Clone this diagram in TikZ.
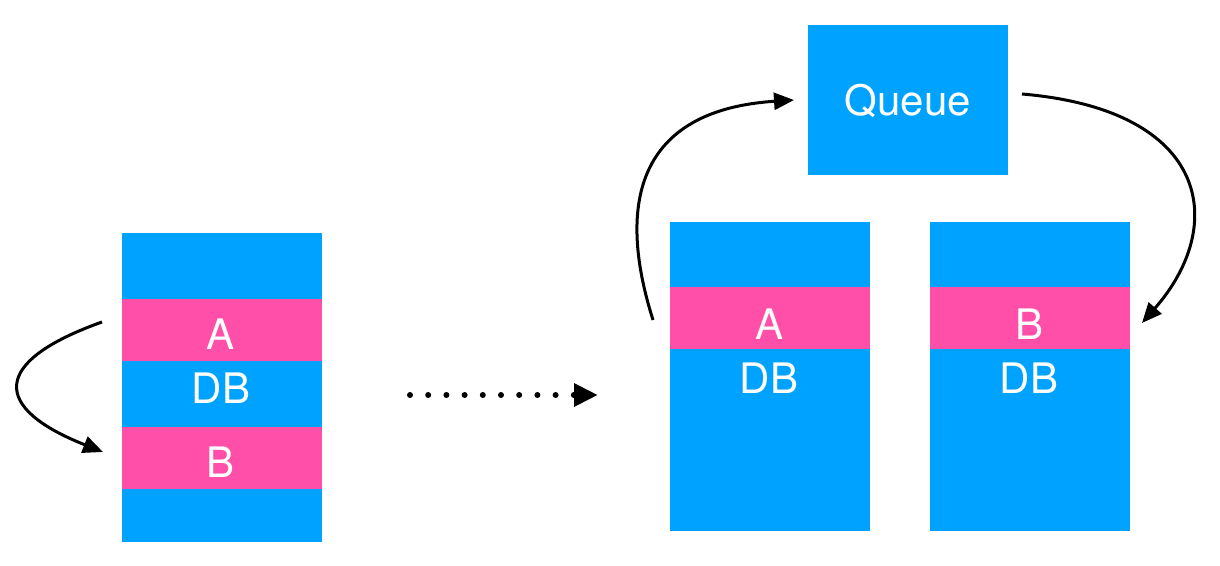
\documentclass[tikz,border=0pt]{standalone}
\usepackage{fontspec}
\setmainfont{TeX Gyre Heros}
\usetikzlibrary{arrows.meta,positioning}
\definecolor{dbblue}{RGB}{0,162,255}
\definecolor{rowpink}{RGB}{255,79,168}

\begin{document}
\begin{tikzpicture}[x=0.5pt, y=-0.5pt,
        dbbox/.style={fill=dbblue, minimum width=100pt, minimum height=154.5pt, inner sep=0pt, outer sep=0pt},
        rowband/.style={fill=rowpink, minimum width=100pt, minimum height=31pt, inner sep=0pt, outer sep=0pt},
        label/.style={text=white, inner sep=0pt, text depth=0pt, font=\fontsize{21}{24}\selectfont},
        link/.style={line width=1.5pt, -{Triangle[length=10pt, width=8.5pt]}}]

        \useasboundingbox (0,0) rectangle (1220,566);

        % Left database (one box)
        \node[dbbox, anchor=north west] (dbL) at (122,233) {};
        \node[rowband, below=33pt of dbL.north, anchor=north] (rowLA) {};
        \node[rowband, below=33pt of rowLA.south, anchor=north] (rowLB) {};
        \node[label] (txtLA) at (221,334) {A};
        \node[label] (txtLdb) at (221,388) {DB};
        \node[label] (txtLB) at (221,462) {B};

        % Queue
        \node[dbbox, minimum height=75pt, anchor=north west] (queue) at (808,25) {};
        \node[label] (txtQ) at (908,100) {Queue};

        % Right databases (split)
        \node[dbbox, anchor=north west] (dbA) at (670,222) {};
        \node[rowband, below=32.5pt of dbA.north, anchor=north] (rowA) {};
        \node[label] (txtA) at (769,324) {A};
        \node[label] (txtAdb) at (769,378) {DB};

        \node[dbbox, anchor=north west] (dbB) at (930,222) {};
        \node[rowband, below=32.5pt of dbB.north, anchor=north] (rowB) {};
        \node[label] (txtB) at (1029,324) {B};
        \node[label] (txtBdb) at (1029,378) {DB};

        % Arrow ends
        \coordinate (lstart) at (102,322);
        \coordinate (lend) at (103,452);
        \coordinate (dstart) at (410,395);
        \coordinate (dend) at (598,395);
        \coordinate (ustart) at (653,320);
        \coordinate (uend) at (794,100);
        \coordinate (rstart) at (1022,94);
        \coordinate (rend) at (1142,323);

        % Left curved arrow (A to B)
        \draw[link] (lstart) .. controls (-10,362) and (-8,408) .. (lend);

        % Dotted arrow
        \draw[line width=3pt, line cap=round, dash pattern=on 0pt off 9.1pt,
              -{Triangle[length=12pt, width=11pt]}] (dstart) -- (dend);

        % Into and out of the queue
        \draw[link] (ustart) .. controls (615,200) and (640,110) .. (uend);
        \draw[link] (rstart) .. controls (1210,110) and (1228,225) .. (rend);

        \end{tikzpicture}
\end{document}
